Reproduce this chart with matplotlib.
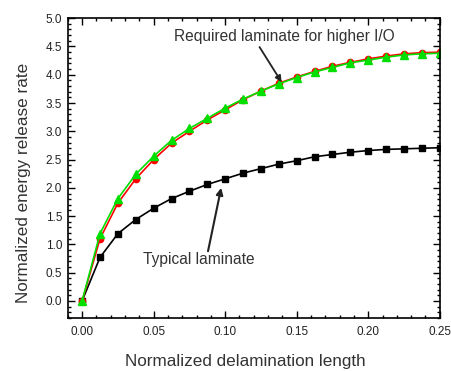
import matplotlib
matplotlib.use("Agg")
import matplotlib.pyplot as plt
from matplotlib.ticker import MultipleLocator

plt.rcParams['font.family'] = ['Liberation Sans', 'DejaVu Sans']

x = [i * 0.0125 for i in range(21)]
typical = [0.0, 0.77, 1.19, 1.44, 1.64, 1.81, 1.94, 2.06, 2.16, 2.26, 2.34,
           2.42, 2.48, 2.55, 2.59, 2.63, 2.66, 2.68, 2.69, 2.70, 2.71]
required_red = [0.0, 1.10, 1.73, 2.16, 2.50, 2.79, 3.00, 3.20, 3.38, 3.56, 3.71,
                3.85, 3.96, 4.06, 4.15, 4.22, 4.28, 4.33, 4.37, 4.39, 4.40]
required_green = [0.0, 1.19, 1.81, 2.24, 2.56, 2.84, 3.05, 3.23, 3.41, 3.57, 3.71,
                  3.84, 3.95, 4.05, 4.13, 4.21, 4.26, 4.31, 4.35, 4.37, 4.38]

fig = plt.figure(figsize=(4.52, 3.71), dpi=100)
ax = fig.add_axes([0.150, 0.143, 0.823, 0.808])

ax.plot(x, typical, color='black', marker='s', markersize=4.5, linewidth=1.2)
ax.plot(x, required_red, color='red', marker='o', markersize=4.5, linewidth=1.2)
ax.plot(x, required_green, color='#00e000', marker='^', markersize=5.5, linewidth=1.2)

ax.set_xlim(-0.01, 0.25)
ax.set_ylim(-0.3, 5.0)
ax.xaxis.set_major_locator(MultipleLocator(0.05))
ax.xaxis.set_minor_locator(MultipleLocator(0.01))
ax.yaxis.set_major_locator(MultipleLocator(0.5))
ax.yaxis.set_minor_locator(MultipleLocator(0.1))
ax.xaxis.set_major_formatter(plt.FormatStrFormatter('%.2f'))
ax.yaxis.set_major_formatter(plt.FormatStrFormatter('%.1f'))
ax.tick_params(which='both', direction='in', top=True, right=True,
               labelsize=8.5, width=1, labelcolor='#222222')
ax.tick_params(axis='x', which='major', pad=6)
ax.tick_params(axis='y', which='major', pad=4)
ax.tick_params(which='major', length=5)
ax.tick_params(which='minor', length=2.5)
for s in ax.spines.values():
    s.set_linewidth(1.2)

ax.set_xlabel('Normalized delamination length', fontsize=12.3, color='#333333')
ax.set_ylabel('Normalized energy release rate', fontsize=12.3, color='#333333')
ax.xaxis.set_label_coords(0.476, -0.12)
ax.yaxis.set_label_coords(-0.10, 0.45)

# annotation texts and arrows
ax.text(0.1415, 4.67, 'Required laminate for higher I/O', ha='center', va='center',
        fontsize=11.2, color='#333333')
ax.annotate('', xy=(0.1394, 3.87), xytext=(0.124, 4.49),
            arrowprops=dict(arrowstyle='-|>', color='#222222', lw=1.3,
                            shrinkA=0, shrinkB=0, mutation_scale=9))
ax.text(0.0817, 0.74, 'Typical laminate', ha='center', va='center',
        fontsize=11.2, color='#333333')
ax.annotate('', xy=(0.0972, 2.0), xytext=(0.088, 0.88),
            arrowprops=dict(arrowstyle='-|>', color='#222222', lw=1.5,
                            shrinkA=0, shrinkB=0, mutation_scale=10))

fig.savefig('out.png', dpi=100)
